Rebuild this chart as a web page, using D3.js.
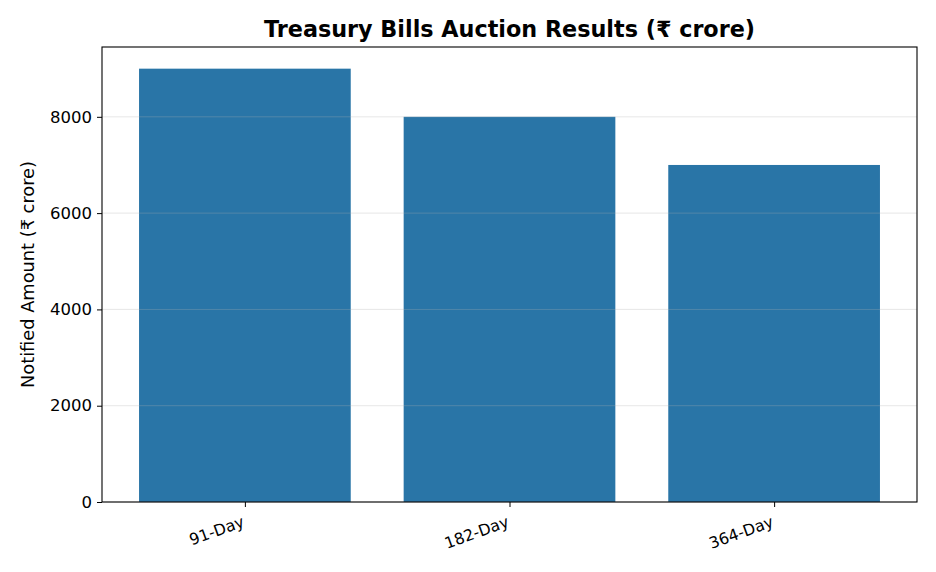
<!DOCTYPE html>
<html><head><meta charset="utf-8">
<script src="https://cdn.jsdelivr.net/npm/d3@7"></script>
<style>body{margin:0;background:#fff}svg{display:block;font-family:"DejaVu Sans",sans-serif}</style>
</head><body><svg id="c" width="936" height="572"></svg>
<script>
const categories = ["91-Day", "182-Day", "364-Day"];
const values = [9000, 8000, 7000];
const yTicks = [0, 2000, 4000, 6000, 8000];

const svg = d3.select("#c");
const m = {l:102, r:936-917, t:47, b:572-502};
const W = 936 - m.l - m.r, H = 572 - m.t - m.b;
const g = svg.append("g").attr("transform", `translate(${m.l},${m.t})`);

const x = d3.scaleLinear().domain([-0.54, 2.54]).range([0, W]);
const y = d3.scaleLinear().domain([0, 9450]).range([H, 0]);

g.selectAll("rect.bar").data(values).join("rect")
  .attr("x", (d,i)=>x(i-0.4)).attr("width", (d,i)=>x(i+0.4)-x(i-0.4))
  .attr("y", d=>y(d)).attr("height", d=>y(0)-y(d))
  .attr("fill", "#2975a7");

g.selectAll("line.grid").data(yTicks).join("line")
  .attr("x1",0).attr("x2",W).attr("y1",d=>y(d)).attr("y2",d=>y(d))
  .attr("stroke","#b0b0b0").attr("stroke-opacity",0.3).attr("stroke-width",1);

const ya = g.append("g").call(d3.axisLeft(y).tickValues(yTicks).tickSize(5).tickPadding(5).tickFormat(d3.format("d")));
ya.select(".domain").remove();
ya.selectAll("text").attr("font-size","16.5px").attr("fill","#000").style("font-family","DejaVu Sans");
ya.selectAll("line").attr("stroke","#000");

const xa = g.append("g").attr("transform",`translate(0,${H})`)
  .call(d3.axisBottom(x).tickValues([0,1,2]).tickSize(5).tickFormat(i=>categories[i]));
xa.select(".domain").remove();
xa.selectAll("line").attr("stroke","#000");
xa.selectAll("text").attr("font-size","15.8px").attr("fill","#000").style("font-family","DejaVu Sans")
  .attr("text-anchor","end").attr("dy",null).attr("y",null)
  .attr("transform","translate(0,24) rotate(-20)");

g.append("rect").attr("width",W).attr("height",H).attr("fill","none").attr("stroke","#000").attr("stroke-width",1.1);

svg.append("text").attr("x", m.l + W/2).attr("y", 37).attr("text-anchor","middle")
  .attr("font-size","22.3px").attr("font-weight","bold").text("Treasury Bills Auction Results (₹ crore)");
svg.append("text").attr("transform",`translate(34,${m.t+H/2}) rotate(-90)`).attr("text-anchor","middle")
  .attr("font-size","17.8px").text("Notified Amount (₹ crore)");
</script></body></html>
